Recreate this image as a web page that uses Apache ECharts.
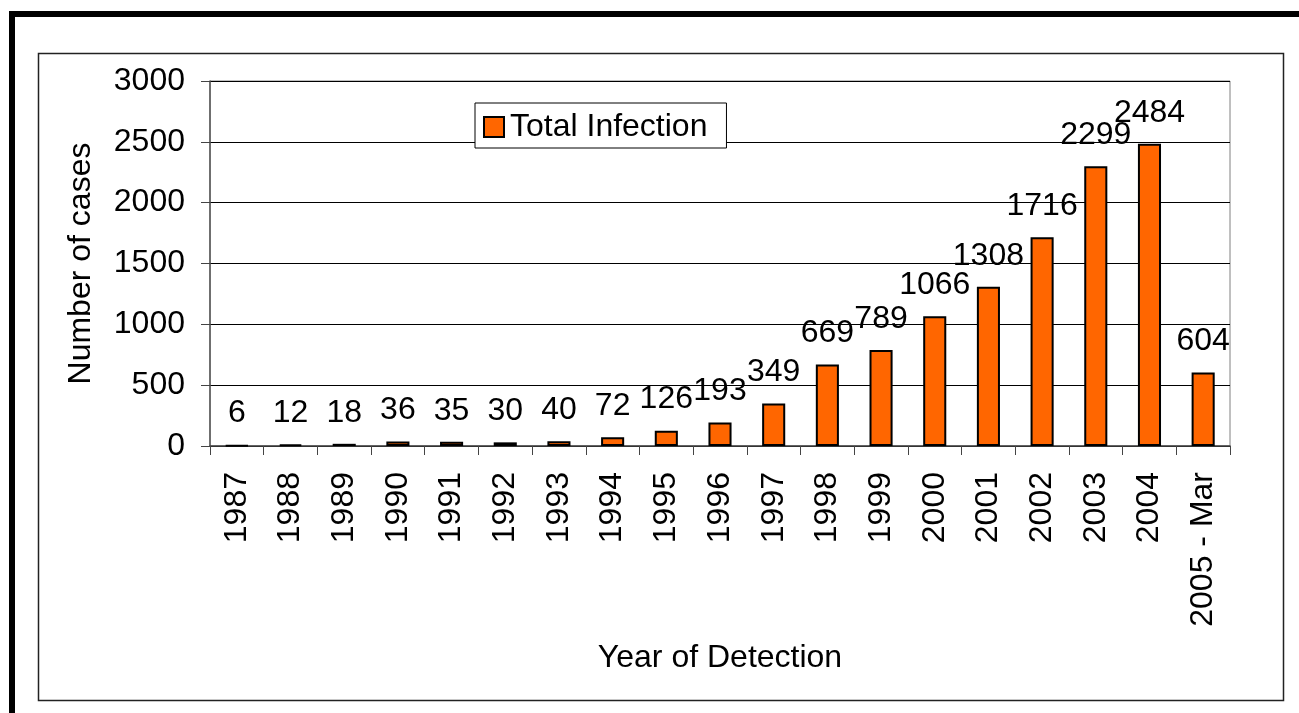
<!DOCTYPE html>
<html lang="en">
<head>
  <meta charset="UTF-8">
  <title>Total Infection by Year of Detection</title>
  <script src="https://cdn.jsdelivr.net/npm/echarts@6/dist/echarts.min.js"></script>
  <style>
    html, body { margin: 0; padding: 0; background: #fff; }
    #main { width: 1299px; height: 713px; }
  </style>
</head>
<body>
<div id="main"></div>
<script type="text/javascript">
  var years = ['1987', '1988', '1989', '1990', '1991', '1992', '1993', '1994', '1995', '1996',
               '1997', '1998', '1999', '2000', '2001', '2002', '2003', '2004', '2005 - Mar'];
  var totalInfection = [6, 12, 18, 36, 35, 30, 40, 72, 126, 193, 349, 669, 789, 1066, 1308, 1716, 2299, 2484, 604];

  var font = 'Liberation Sans, Arial, sans-serif';
  var chartDom = document.getElementById('main');
  var myChart = echarts.init(chartDom);
  var option;

  option = {
    backgroundColor: '#fff',
    animation: false,
    textStyle: { fontFamily: font, color: '#000' },
    graphic: [
      // heavy frame, top and left
      { type: 'rect', shape: { x: 9, y: 11, width: 1290, height: 6 }, style: { fill: '#000' } },
      { type: 'rect', shape: { x: 9, y: 11, width: 6, height: 702 }, style: { fill: '#000' } },
      // chart area border
      { type: 'rect', shape: { x: 38.5, y: 53.5, width: 1245, height: 647 },
        style: { fill: null, stroke: '#222', lineWidth: 1.5 } }
    ],
    legend: {
      left: 475,
      top: 103,
      padding: [8, 19, 5, 8],
      backgroundColor: '#fff',
      borderColor: '#000',
      borderWidth: 1,
      itemWidth: 20,
      itemHeight: 20,
      itemGap: 5,
      icon: 'rect',
      textStyle: { fontSize: 32, fontFamily: font, color: '#000', padding: [0, 0, 0, 1] },
      data: ['Total Infection']
    },
    grid: {
      left: 210,
      right: 69,
      top: 81,
      bottom: 267,
      show: true,
      borderColor: '#808080',
      borderWidth: 1,
      containLabel: false
    },
    xAxis: {
      type: 'category',
      data: years,
      name: 'Year of Detection',
      nameLocation: 'middle',
      nameGap: 196,
      nameTextStyle: { fontSize: 32, fontFamily: font, color: '#000' },
      axisLine: { lineStyle: { color: '#444', width: 1.5 } },
      axisTick: { show: true, length: 9, alignWithLabel: false, lineStyle: { color: '#444' } },
      axisLabel: { rotate: 90, fontSize: 32, fontFamily: font, color: '#000', margin: 26, interval: 0 }
    },
    yAxis: {
      type: 'value',
      min: 0,
      max: 3000,
      interval: 500,
      name: 'Number of cases',
      nameLocation: 'middle',
      nameRotate: 90,
      nameGap: 113,
      nameTextStyle: { fontSize: 32, fontFamily: font, color: '#000' },
      axisLine: { show: true, lineStyle: { color: '#555', width: 1.5 } },
      axisTick: { show: true, length: 9, lineStyle: { color: '#444' } },
      axisLabel: {
        fontSize: 32, fontFamily: font, color: '#000', margin: 25,
        formatter: function (v) { return String(v); }
      },
      splitLine: { show: true, lineStyle: { color: '#000', width: 1 } }
    },
    series: [
      {
        name: 'Total Infection',
        type: 'bar',
        barWidth: '43%',
        itemStyle: { color: '#FF6600', borderColor: '#000', borderWidth: 2 },
        label: {
          show: true,
          position: 'top',
          distance: 15,
          fontSize: 32,
          fontFamily: font,
          color: '#000'
        },
        data: totalInfection
      }
    ]
  };

  option && myChart.setOption(option);
</script>
</body>
</html>
